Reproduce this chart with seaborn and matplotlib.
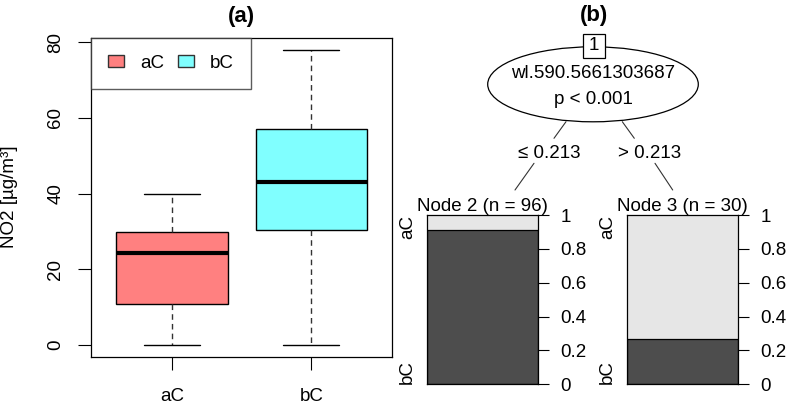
import numpy as np
import pandas as pd
import matplotlib
matplotlib.use("Agg")
import matplotlib.pyplot as plt
from matplotlib.patches import Ellipse, Rectangle, Patch
import seaborn as sns

# ---------------- data ----------------
categories = ["aC", "bC"]
# five-number summaries (min, Q1, median, Q3, max)
aC_values = [0.0, 10.9, 24.4, 29.9, 40.0]
bC_values = [0.0, 30.5, 43.0, 57.0, 78.0]
box_colors = ["#FF8080", "#80FFFF"]

y_ticks = [0, 20, 40, 60, 80]
node_names = ["Node 2 (n = 96)", "Node 3 (n = 30)"]
node_bC = [0.91, 0.265]          # proportion of class bC in each terminal node
node_aC = [1 - v for v in node_bC]
prop_ticks = [0, 0.2, 0.4, 0.6, 0.8, 1]
prop_labels = ["0", "0.2", "0.4", "0.6", "0.8", "1"]
split_var = "wl.590.5661303687"
split_p = "p < 0.001"
edge_labels = ["\u2264 0.213", "> 0.213"]

# ---------------- style ----------------
sns.set_theme(style="white")
plt.rcParams["font.family"] = ["Liberation Sans", "DejaVu Sans"]
for k in ["text.color", "axes.labelcolor", "xtick.color", "ytick.color",
          "axes.edgecolor"]:
    plt.rcParams[k] = "black"
FS = 13.5
W, H = 787, 404
fig = plt.figure(figsize=(W / 100, H / 100), dpi=100)
fig.patch.set_facecolor("white")


def fr(x0, y0, x1, y1):
    """pixel box -> figure fraction rect"""
    return [x0 / W, 1 - y1 / H, (x1 - x0) / W, (y1 - y0) / H]


# ---------------- panel (a): boxplot ----------------
ax = fig.add_axes(fr(91.3, 38, 392, 357))
df = pd.DataFrame({
    "cls": np.repeat(categories, [len(aC_values), len(bC_values)]),
    "NO2": aC_values + bC_values,
})
sns.boxplot(
    data=df, x="cls", y="NO2", hue="cls", order=categories, hue_order=categories,
    palette=dict(zip(categories, box_colors)), legend=False, width=0.8,
    saturation=1, linecolor="black", linewidth=1.0, whis=1.5, ax=ax,
    whiskerprops=dict(linestyle=(0, (4, 3)), color="#333333"),
    capprops=dict(color="black"),
    medianprops=dict(linewidth=3, color="black"),
)
ax.set_xlim(0.42 - 1, 2.58 - 1)
ax.set_ylim(-3.12, 81.12)
ax.set_yticks(y_ticks)
ax.set_yticklabels([str(v) for v in y_ticks])
ax.tick_params(axis="y", labelrotation=90, length=9.4, width=0.8, pad=10,
               labelsize=FS, left=True, color="black", labelcolor="black")
for lab in ax.get_yticklabels():
    lab.set_va("center")
ax.tick_params(axis="x", length=9.4, width=0.8, pad=13, labelsize=FS,
               bottom=True, color="black", labelcolor="black")
ax.set_xlabel("")
ax.set_ylabel("")
for s in ax.spines.values():
    s.set_color("black")
    s.set_linewidth(0.9)
ax.set_title("(a)", fontsize=16, fontweight="bold", pad=11.5, color="black")
fig.text(10 / W, 1 - 197 / H, "NO2 [µg/m³]", rotation=90, ha="center",
         va="center", fontsize=FS, color="black")

handles = [Patch(facecolor=c, edgecolor="#333333", linewidth=1) for c in box_colors]
leg = ax.legend(handles, categories, loc="upper left", ncol=2, fontsize=FS,
                frameon=True, fancybox=False, borderaxespad=0, borderpad=0.9,
                handlelength=0.85, handleheight=0.6, handletextpad=0.85,
                columnspacing=0.75)
leg.get_frame().set_edgecolor("#333333")
leg.get_frame().set_linewidth(1.0)
for t in leg.get_texts():
    t.set_color("black")

# ---------------- panel (b): tree ----------------
tax = fig.add_axes([0, 0, 1, 1], zorder=0)
tax.set_xlim(0, W)
tax.set_ylim(H, 0)
tax.axis("off")

fig.text(594 / W, 1 - 16 / H, "(b)", ha="center", va="center", fontsize=16,
         fontweight="bold", color="black")

# edges
lw_e = 0.8
ec = "#333333"
tax.plot([566, 554], [121.7, 138.3], color=ec, lw=lw_e)
tax.plot([534, 515], [163.3, 190], color=ec, lw=lw_e)
tax.plot([622.3, 634.3], [121.7, 138.3], color=ec, lw=lw_e)
tax.plot([655, 672.7], [163.3, 190], color=ec, lw=lw_e)
tax.text(549, 154, edge_labels[0], ha="center", va="center", fontsize=FS)
tax.text(650, 154, edge_labels[1], ha="center", va="center", fontsize=FS)

# inner node
tax.add_patch(Ellipse((593, 84.3), 210.6, 75, facecolor="white",
                      edgecolor="black", lw=0.9, zorder=2))
tax.add_patch(Rectangle((582.7, 33.5), 22.3, 24.5, facecolor="white",
                        edgecolor="black", lw=0.9, zorder=3))
tax.text(594, 46, "1", ha="center", va="center", fontsize=FS, zorder=4)
tax.text(593, 74, split_var, ha="center", va="center", fontsize=FS, zorder=4)
tax.text(593, 99, split_p, ha="center", va="center", fontsize=FS, zorder=4)

# terminal nodes
node_x = [426.7, 626.7]
for i, x0 in enumerate(node_x):
    nax = fig.add_axes(fr(x0, 215, x0 + 111.6, 384.3), zorder=2)
    total = [node_bC[i] + node_aC[i]]
    sns.barplot(x=[0], y=total, color="#E6E6E6", width=1, saturation=1,
                edgecolor="none", ax=nax)
    sns.barplot(x=[0], y=[node_bC[i]], color="#4D4D4D", width=1, saturation=1,
                edgecolor="black", linewidth=0.9, ax=nax)
    nax.set_xlim(-0.5, 0.5)
    nax.set_ylim(0, 1)
    nax.set_xticks([])
    nax.set_xlabel("")
    nax.set_ylabel("")
    nax.yaxis.tick_right()
    nax.set_yticks(prop_ticks)
    nax.set_yticklabels(prop_labels)
    nax.tick_params(axis="y", right=True, left=False, length=8, width=0.8,
                    pad=8, labelsize=FS, color="black", labelcolor="black")
    for s in nax.spines.values():
        s.set_color("black")
        s.set_linewidth(0.9)
    nax.set_title(node_names[i], fontsize=FS, pad=3, color="black")
    nax.annotate(categories[0], xy=(0, 1), xycoords="axes fraction",
                 xytext=(-14, 0), textcoords="offset points", rotation=90,
                 ha="center", va="top", fontsize=FS)
    nax.annotate(categories[1], xy=(0, 0), xycoords="axes fraction",
                 xytext=(-14, 0), textcoords="offset points", rotation=90,
                 ha="center", va="bottom", fontsize=FS)

fig.savefig("out.png", dpi=100, facecolor="white")
